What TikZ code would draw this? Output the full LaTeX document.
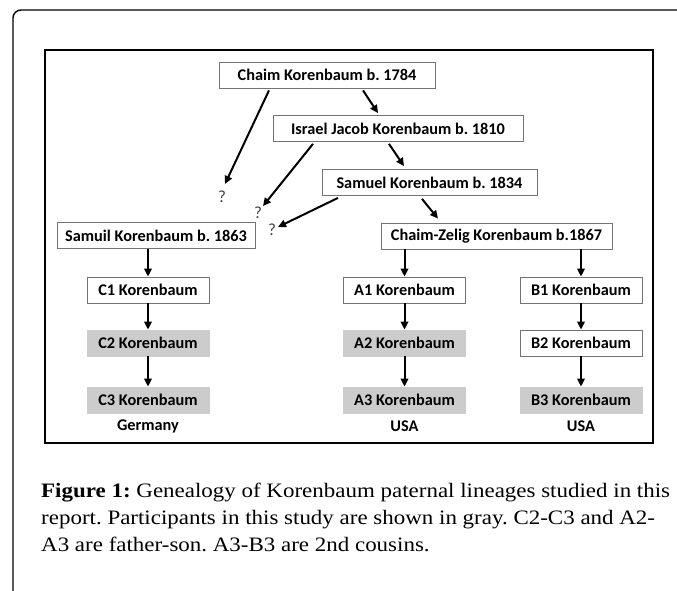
\documentclass[tikz,border=0pt]{standalone}
\usepackage{fontspec}
\newfontfamily\boxfont{Carlito}
\newfontfamily\capfont{Liberation Serif}[FakeStretch=1.12]
\usetikzlibrary{calc, arrows.meta}
\tikzset{
    person/.style={draw=black!55, line width=0.8pt, fill=white, minimum height=26pt, inner sep=0pt,
        font=\boxfont\bfseries\fontsize{16.3}{18}\selectfont},
    studied/.style={person, draw=black!20, fill=black!20},
    arr/.style={line width=2pt, -{Triangle[length=8pt,width=7.5pt]}},
    qmark/.style={inner sep=0pt, text=black!75, font=\boxfont\fontsize{17}{19}\selectfont},
    country/.style={inner sep=0pt, font=\boxfont\bfseries\fontsize{16.3}{18}\selectfont},
    captext/.style={anchor=base west, inner sep=0pt, font=\capfont\fontsize{20.5}{27}\selectfont},
}

\begin{document}
\frenchspacing
\begin{tikzpicture}[x=1pt,y=-1pt]
    \useasboundingbox (0,0) rectangle (677,591);
    \clip (0,0) rectangle (677,591);
    \draw[line width=1.4pt, rounded corners=8pt] (13,10) rectangle (720,640);
    \draw[line width=1.3pt] (45,50) rectangle (653,443);

    % ancestors
    \node[person, minimum width=216pt] (chaim) at (327,75) {Chaim Korenbaum b. 1784};
    \node[person, minimum width=250pt] (israel) at (398,128.5) {Israel Jacob Korenbaum b. 1810};
    \node[person, minimum width=215pt] (samuel) at (429.5,182.5) {Samuel Korenbaum b. 1834};
    \node[person, minimum width=198pt] (samuil) at (156,235.5) {Samuil Korenbaum b. 1863};
    \node[person, minimum width=231pt] (zelig) at (496.5,236) {Chaim-Zelig Korenbaum b.1867};
    \node[qmark] (q1) at (222,197) {?};
    \node[qmark] (q2) at (258,213) {?};
    \node[qmark] (q3) at (272,230) {?};

    % lineages
    \foreach \n/\x/\y/\s in {C1/148/290/person, C2/148/343/studied, C3/148/400/studied,
                             A1/404.5/290/person, A2/404.5/343/studied, A3/404.5/400/studied,
                             B1/581/290/person, B2/581/343/person, B3/581/400/studied}{
        \node[\s, minimum width=122pt] (\n) at (\x,\y) {\n{} Korenbaum};
    }
    \node[country] (germany) at (148,426) {Germany};
    \node[country] (usaA) at (404.5,426.5) {USA};
    \node[country] (usaB) at (581,426.5) {USA};

    \draw[arr] ($(chaim.south)+(-58,2)$) -- ($(q1)+(3,-13)$);
    \draw[arr] ($(israel.south)+(-85,2)$) -- ($(q2)+(5,-7)$);
    \draw[arr] ($(samuel.south)+(-91.5,2)$) -- ($(q3)+(6,-3)$);
    \draw[arr] ($(chaim.south)+(36,2)$) -- ($(israel.north)+(-20,-2)$);
    \draw[arr] ($(israel.south)+(-9,2)$) -- ($(samuel.north)+(-25.5,-3)$);
    \draw[arr] ($(samuel.south)+(-7.5,3)$) -- ($(zelig.north)+(-58.5,-4)$);
    \draw[arr] (C1.north |- samuil.south) -- (C1.north);
    \draw[arr] (A1.north |- zelig.south) -- (A1.north);
    \draw[arr] (B1.north |- zelig.south) -- (B1.north);
    \foreach \a/\b in {C1/C2, C2/C3, A1/A2, A2/A3, B1/B2, B2/B3}{
        \draw[arr] (\a) -- (\b);
    }

    % caption
    \node[captext] (cap1) at (41,497) {\textbf{Figure 1:} Genealogy of Korenbaum paternal lineages studied in this};
    \node[captext] (cap2) at (41,524) {report. Participants in this study are shown in gray. C2-C3 and A2-};
    \node[captext] (cap3) at (41,551) {A3 are father-son. A3-B3 are 2nd cousins.};
\end{tikzpicture}
\end{document}
